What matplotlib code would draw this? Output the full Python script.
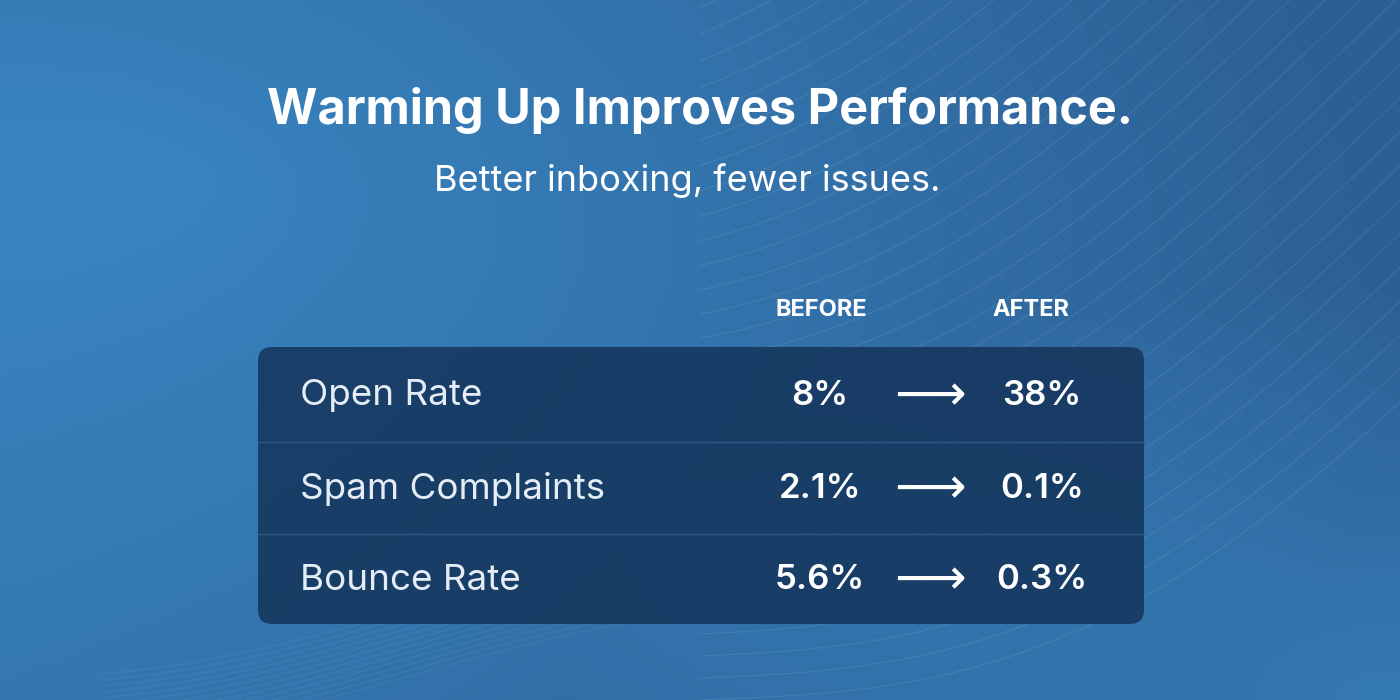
import numpy as np
import matplotlib
matplotlib.use("Agg")
import matplotlib.pyplot as plt
from matplotlib.patches import FancyBboxPatch

title = "Warming Up Improves Performance."
subtitle = "Better inboxing, fewer issues."
headers = ["BEFORE", "AFTER"]
metrics = ["Open Rate", "Spam Complaints", "Bounce Rate"]
before = ["8%", "2.1%", "5.6%"]
after = ["38%", "0.1%", "0.3%"]

plt.rcParams['font.family'] = ['Inter', 'DejaVu Sans']
fig = plt.figure(figsize=(14, 7), dpi=100)
ax = fig.add_axes([0, 0, 1, 1])
ax.set_xlim(0, 1400); ax.set_ylim(700, 0); ax.axis('off')

# background gradient
xx, yy = np.meshgrid(np.linspace(0, 1, 280), np.linspace(0, 1, 140))
c1 = np.array([0x3b, 0x8b, 0xc8]) / 255
c2 = np.array([0x2c, 0x5f, 0x94]) / 255
t = np.clip(0.55 * xx + 0.25 * (1 - yy) + 0.1 * yy * xx, 0, 1)[..., None]
d = np.sqrt((xx - 0.1) ** 2 + (yy - 0.25) ** 2)
t = np.clip(t * 0.6 + d[..., None] * 0.6, 0, 1)
br = np.clip(1 - np.sqrt((xx - 1) ** 2 + (yy - 1) ** 2) / 0.6, 0, 1)[..., None]
t = np.clip(t - 0.6 * br, 0, 1)
img = c1 * (1 - t) + c2 * t
ax.imshow(img, extent=[0, 1400, 700, 0], aspect='auto', zorder=0)

# decorative wave lines
xs = np.linspace(700, 1400, 300)
for k in range(30):
    y = 700 - k * 28 + 120 * np.sin((xs - 700) / 260 + k * 0.05) - (xs - 700) * 0.5
    ax.plot(xs, y, color='white', alpha=0.09, lw=0.8, zorder=1)
xs2 = np.linspace(100, 800, 200)
for k in range(12):
    y = 700 - k * 6 + 40 * np.cos((xs2 - 100) / 200) - (xs2 - 100) * 0.08
    ax.plot(xs2, y, color='white', alpha=0.06, lw=0.8, zorder=1)

ax.text(700, 110, title, ha='center', va='center', color='white', fontsize=35, fontweight='bold', zorder=5)
ax.text(687, 181, subtitle, ha='center', va='center', color='white', fontsize=26, zorder=5)

bx = [821, 1031]
for h, x in zip(headers, bx):
    ax.text(x, 310, h, ha='center', va='center', color='white', fontsize=17, fontweight='bold', zorder=5)

panel = FancyBboxPatch((258, 347), 886, 277, boxstyle="round,pad=0,rounding_size=14",
                       fc='#14345a', ec='none', alpha=0.85, zorder=2)
ax.add_patch(panel)
for y in [442, 534]:
    ax.plot([258, 1144], [y, y], color='#2f5882', lw=1, zorder=3)

rows_y = [396, 489, 580]
for m, b, a, y in zip(metrics, before, after, rows_y):
    ax.text(300, y, m, ha='left', va='center', color='#e4ecf5', fontsize=26.5, zorder=5)
    ax.text(820, y, b, ha='center', va='center', color='white', fontsize=25, fontweight='semibold', zorder=5)
    ax.text(1042, y, a, ha='center', va='center', color='white', fontsize=25, fontweight='semibold', zorder=5)
    ax.text(930, y, "⟶", ha='center', va='center', color='white', fontsize=36, family=['DejaVu Sans'], zorder=5)

fig.savefig("out.png", dpi=100)
